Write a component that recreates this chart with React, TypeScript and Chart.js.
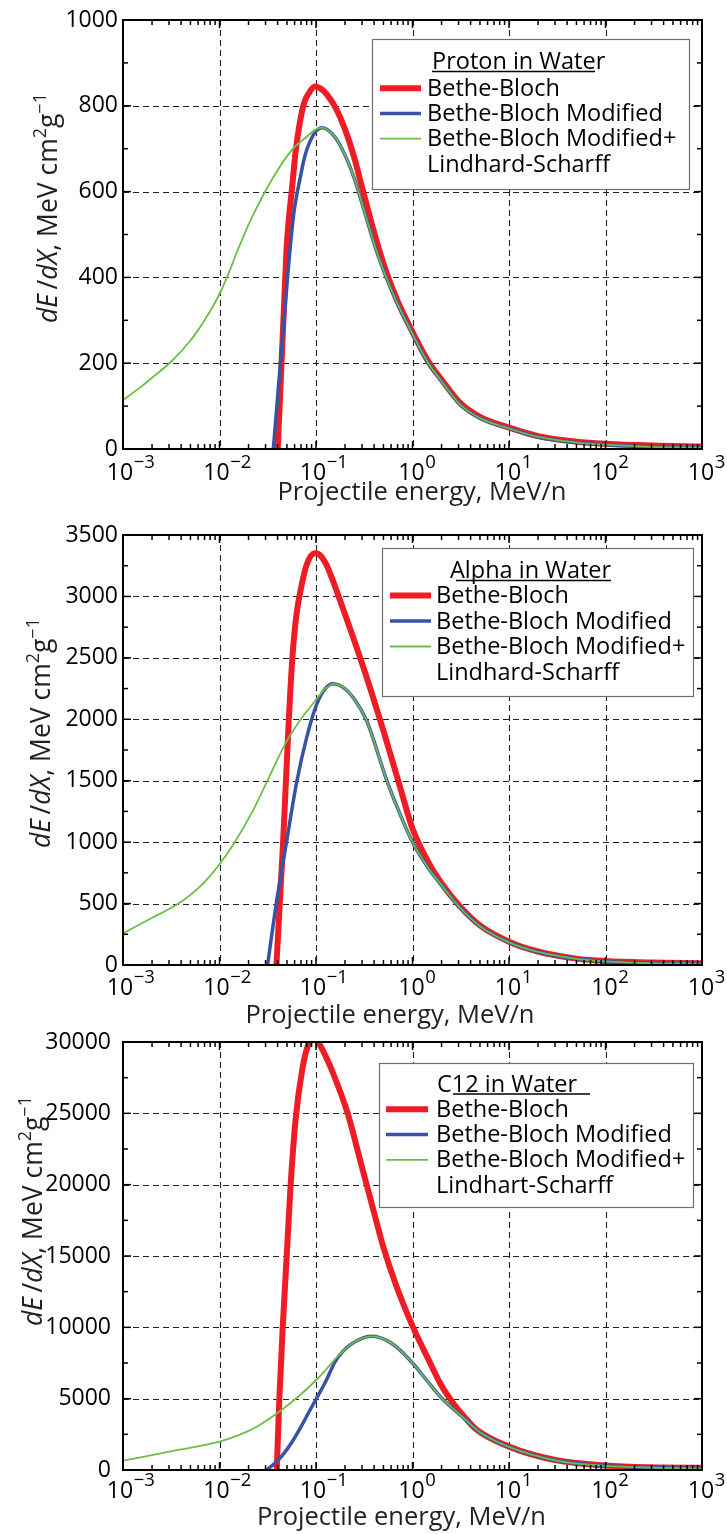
import React, { useEffect, useRef } from "react";
import { Chart, registerables } from "chart.js";

Chart.register(...registerables);

const FONT = '"Open Sans", "Noto Sans", "DejaVu Sans", sans-serif';
const INK = "#231f20";

// ---------------- data ----------------
const xTickExponents = [-3, -2, -1, 0, 1, 2, 3];
const seriesLabels = ["Bethe-Bloch", "Bethe-Bloch Modified", "Bethe-Bloch Modified+"];

// Proton in water
const protonTitle = "Proton in Water";
const protonLastLine = "Lindhard-Scharff";
const protonYTicks = [0, 200, 400, 600, 800, 1000];
const protonBBEnergy = [0.0401, 0.04236, 0.04444, 0.0466, 0.04946, 0.05252, 0.05598, 0.06204, 0.07385, 0.08462, 0.09763, 0.1154, 0.13, 0.16, 0.2, 0.25, 0.3, 0.42, 0.53, 0.7, 1.0, 1.45, 2.0, 3.1, 5, 10, 20, 50, 100, 300, 1000];
const protonBBValues = [0, 121, 226, 332, 464, 540, 600, 700, 800, 830, 845, 838, 826, 795, 745, 678, 610, 488, 415, 345, 273, 205, 162, 108, 75, 50, 30, 17, 12, 8, 6];
const protonBBMEnergy = [0.0361, 0.03944, 0.04338, 0.04774, 0.05126, 0.05506, 0.05916, 0.06355, 0.06826, 0.07691, 0.08666, 0.1, 0.1154, 0.13, 0.16, 0.2, 0.25, 0.3, 0.42, 0.53, 0.7, 1.0, 1.45, 2.0, 3.1, 5, 10, 20, 50, 100, 300, 1000];
const protonBBMValues = [0, 104, 216, 328, 412, 489, 553, 595, 630, 684, 717, 741, 749, 745, 725, 685, 630, 572, 464, 402, 338, 268, 201, 158, 104, 72, 48, 28, 15, 10, 5, 3];
const protonLSEnergy = [0.001, 0.0015, 0.002, 0.00307, 0.005, 0.00708, 0.00989, 0.0123, 0.0151, 0.02, 0.0284, 0.04, 0.0578, 0.08, 0.1, 0.1154, 0.13, 0.16, 0.2, 0.25, 0.3, 0.42, 0.53, 0.7, 1.0, 1.45, 2.0, 3.1, 5, 10, 20, 50, 100, 300, 1000];
const protonLSValues = [114, 143, 166, 201, 253, 302, 359, 407, 458, 523, 592, 650, 700, 728, 745, 749, 745, 725, 685, 630, 572, 464, 402, 338, 268, 201, 158, 104, 72, 48, 28, 15, 10, 5, 3];

// Alpha in water
const alphaTitle = "Alpha in Water";
const alphaLastLine = "Lindhard-Scharff";
const alphaYTicks = [0, 500, 1000, 1500, 2000, 2500, 3000, 3500];
const alphaBBEnergy = [0.0389, 0.0421, 0.0456, 0.0485, 0.052, 0.0569, 0.0627, 0.0713, 0.0802, 0.0973, 0.1095, 0.1284, 0.1507, 0.1766, 0.244, 0.336, 0.5, 0.745, 1.0, 1.5, 2.0, 3.0, 5, 10, 20, 50, 100, 300, 1000];
const alphaBBValues = [0, 500, 1000, 1450, 1960, 2500, 2850, 3100, 3260, 3351, 3338, 3257, 3122, 2973, 2662, 2338, 1905, 1446, 1110, 820, 665, 490, 322, 190, 110, 52, 32, 20, 15];
const alphaBBMEnergy = [0.0315, 0.0391, 0.0497, 0.063, 0.08, 0.1016, 0.125, 0.151, 0.19, 0.244, 0.336, 0.542, 0.75, 1.0, 1.5, 2.0, 3.0, 5, 10, 20, 50, 100, 300, 1000];
const alphaBBMValues = [0, 520, 1010, 1486, 1851, 2122, 2250, 2289, 2262, 2176, 1986, 1500, 1220, 1000, 775, 650, 480, 316, 184, 106, 50, 29, 14, 9];
const alphaLSEnergy = [0.001, 0.00205, 0.00358, 0.005, 0.00708, 0.01, 0.0139, 0.0224, 0.0308, 0.0477, 0.0682, 0.1016, 0.125, 0.151, 0.19, 0.244, 0.336, 0.542, 0.75, 1.0, 1.5, 2.0, 3.0, 5, 10, 20, 50, 100, 300, 1000];
const alphaLSValues = [257, 388, 490, 571, 679, 820, 980, 1262, 1487, 1796, 1990, 2165, 2250, 2289, 2262, 2176, 1986, 1500, 1220, 1000, 775, 650, 480, 316, 184, 106, 50, 29, 14, 9];

// C12 in water
const carbonTitle = "C12 in Water";
const carbonLastLine = "Lindhart-Scharff";
const carbonYTicks = [0, 5000, 10000, 15000, 20000, 25000, 30000];
const carbonBBEnergy = [0.0392, 0.0417, 0.0452, 0.0497, 0.0545, 0.0615, 0.0722, 0.083, 0.096, 0.1117, 0.13, 0.154, 0.2115, 0.291, 0.4, 0.5, 0.68, 1.0, 1.5, 2.0, 2.63, 3.3, 4.58, 10, 31, 100, 300, 1000];
const carbonBBValues = [0, 5000, 10000, 15000, 19906, 24590, 28103, 29800, 30300, 29700, 28800, 27635, 25059, 21546, 18033, 15600, 12900, 10100, 7600, 5900, 4700, 3880, 2850, 1640, 680, 320, 190, 150];
const carbonBBMEnergy = [0.0308, 0.0372, 0.0457, 0.0562, 0.0708, 0.0891, 0.1, 0.126, 0.158, 0.19, 0.229, 0.3, 0.37, 0.45, 0.55, 0.68, 1.0, 1.5, 2.0, 3.33, 5, 10, 31, 100, 300, 1000];
const carbonBBMValues = [0, 450, 1100, 1950, 3100, 4350, 4950, 6200, 7600, 8320, 8800, 9230, 9370, 9300, 9050, 8630, 7500, 6050, 5050, 3700, 2650, 1620, 660, 290, 170, 120];
const carbonLSEnergy = [0.001, 0.002, 0.00284, 0.00631, 0.01, 0.0158, 0.0251, 0.0398, 0.063, 0.1, 0.126, 0.158, 0.19, 0.229, 0.3, 0.37, 0.45, 0.55, 0.68, 1.0, 1.5, 2.0, 3.33, 5, 10, 31, 100, 300, 1000];
const carbonLSValues = [660, 1040, 1250, 1690, 1990, 2440, 3090, 3990, 5050, 6290, 7020, 7780, 8320, 8800, 9230, 9370, 9300, 9050, 8630, 7500, 6050, 5050, 3700, 2650, 1620, 660, 290, 170, 120];

// ---------------- styles ----------------
const LINE_STYLES = [
  { color: "#ee1d25", width: 6, legendWidth: 6, order: 3 },
  { color: "#3953a4", width: 3.5, legendWidth: 3.5, order: 2 },
  { color: "#6cbe45", width: 1.8, legendWidth: 1.8, order: 1 },
];

const PLOT_LEFT = 123;
const PLOT_RIGHT = 702;
const WIDTH = 727;

type Legend = {
  box: [number, number, number, number];
  titleX: number;
  titleBase: number;
  underline: [number, number, number];
  sampleX: [number, number];
  textX: number;
  rowBase: number[];
};

type PanelCfg = {
  canvasTop: number;
  canvasHeight: number;
  plotTop: number;
  plotBottom: number;
  yMax: number;
  yStep: number;
  yMinor: number;
  yTicks: number[];
  yTickPad: number;
  xTickBase: number;
  xTitleX: number;
  xTitleBase: number;
  yTitleX: number;
  yTitleCY: number;
  title: string;
  lastLine: string;
  series: { energy: number[]; values: number[] }[];
  legend: Legend;
};

const panels: PanelCfg[] = [
  {
    canvasTop: 0, canvasHeight: 512, plotTop: 20, plotBottom: 449,
    yMax: 1000, yStep: 200, yMinor: 100, yTicks: protonYTicks, yTickPad: 5,
    xTickBase: 480, xTitleX: 422, xTitleBase: 500, yTitleX: 57, yTitleCY: 208,
    title: protonTitle, lastLine: protonLastLine,
    series: [
      { energy: protonBBEnergy, values: protonBBValues },
      { energy: protonBBMEnergy, values: protonBBMValues },
      { energy: protonLSEnergy, values: protonLSValues },
    ],
    legend: {
      box: [372, 39, 689, 189], titleX: 432, titleBase: 69, underline: [432, 595, 71.5],
      sampleX: [380, 421], textX: 427, rowBase: [95.7, 120.9, 146.1, 171.5],
    },
  },
  {
    canvasTop: 500, canvasHeight: 535, plotTop: 535, plotBottom: 965,
    yMax: 3500, yStep: 500, yMinor: 250, yTicks: alphaYTicks, yTickPad: 5,
    xTickBase: 995, xTitleX: 390, xTitleBase: 1023, yTitleX: 50, yTitleCY: 733,
    title: alphaTitle, lastLine: alphaLastLine,
    series: [
      { energy: alphaBBEnergy, values: alphaBBValues },
      { energy: alphaBBMEnergy, values: alphaBBMValues },
      { energy: alphaLSEnergy, values: alphaLSValues },
    ],
    legend: {
      box: [382, 548, 693, 696], titleX: 450, titleBase: 578.3, underline: [456, 611, 580.5],
      sampleX: [390, 431], textX: 436, rowBase: [603, 628.5, 654, 680],
    },
  },
  {
    canvasTop: 1015, canvasHeight: 519, plotTop: 1042, plotBottom: 1470,
    yMax: 30000, yStep: 5000, yMinor: 2500, yTicks: carbonYTicks, yTickPad: 12,
    xTickBase: 1498, xTitleX: 401.5, xTitleBase: 1525, yTitleX: 42, yTitleCY: 1211,
    title: carbonTitle, lastLine: carbonLastLine,
    series: [
      { energy: carbonBBEnergy, values: carbonBBValues },
      { energy: carbonBBMEnergy, values: carbonBBMValues },
      { energy: carbonLSEnergy, values: carbonLSValues },
    ],
    legend: {
      box: [379, 1063, 693, 1207], titleX: 437, titleBase: 1091.7, underline: [453, 590, 1094],
      sampleX: [386, 428], textX: 436, rowBase: [1116.7, 1142, 1167.3, 1192.8],
    },
  },
];

function line(ctx: CanvasRenderingContext2D, x1: number, y1: number, x2: number, y2: number) {
  ctx.beginPath();
  ctx.moveTo(x1, y1);
  ctx.lineTo(x2, y2);
  ctx.stroke();
}

function makeDecor(p: PanelCfg) {
  return {
    id: "decor",
    beforeDatasetsDraw(chart: any) {
      const { ctx, chartArea: a, scales } = chart;
      const x = scales.x;
      const y = scales.y;
      ctx.save();
      ctx.strokeStyle = "#222";
      ctx.lineWidth = 1.1;
      ctx.setLineDash([6, 4]);
      for (const k of xTickExponents) {
        if (k === xTickExponents[0] || k === xTickExponents[xTickExponents.length - 1]) continue;
        const px = Math.round(x.getPixelForValue(Math.pow(10, k))) + 0.5;
        line(ctx, px, a.top, px, a.bottom);
      }
      for (const v of p.yTicks) {
        if (v === 0 || v === p.yMax) continue;
        const py = Math.round(y.getPixelForValue(v)) + 0.5;
        line(ctx, a.left, py, a.right, py);
      }
      ctx.restore();
    },
    afterDatasetsDraw(chart: any) {
      const { ctx, chartArea: a, scales } = chart;
      const x = scales.x;
      const y = scales.y;
      ctx.save();
      ctx.setLineDash([]);
      ctx.strokeStyle = "#000";
      // ticks
      ctx.lineWidth = 1.5;
      const first = xTickExponents[0];
      const last = xTickExponents[xTickExponents.length - 1];
      for (let k = first; k < last; k++) {
        for (let m = 1; m <= 9; m++) {
          const px = x.getPixelForValue(m * Math.pow(10, k));
          const len = m === 1 ? 8 : 5;
          line(ctx, px, a.bottom, px, a.bottom - len);
          line(ctx, px, a.top, px, a.top + len);
        }
      }
      for (let v = 0; v <= p.yMax; v += p.yMinor) {
        const py = y.getPixelForValue(v);
        const len = v % p.yStep === 0 ? 8 : 5;
        line(ctx, a.left, py, a.left + len, py);
        line(ctx, a.right, py, a.right - len, py);
      }
      // frame
      ctx.lineWidth = 2;
      ctx.strokeRect(a.left, a.top, a.right - a.left, a.bottom - a.top);

      // x tick labels
      ctx.translate(0, -p.canvasTop);
      ctx.fillStyle = "#000";
      for (const k of xTickExponents) {
        const px = x.getPixelForValue(Math.pow(10, k));
        ctx.font = `23px ${FONT}`;
        ctx.textAlign = "center";
        ctx.textBaseline = "alphabetic";
        const w = ctx.measureText("10").width;
        const cx = px - (k < 0 ? 3 : 1);
        ctx.fillText("10", cx, p.xTickBase);
        ctx.font = `18.5px ${FONT}`;
        ctx.textAlign = "left";
        const exp = k < 0 ? "\u2212" + String(-k) : String(k);
        ctx.fillText(exp, cx + w / 2 + 0.5, p.xTickBase - 12);
      }

      // x title
      ctx.fillStyle = INK;
      ctx.font = `25.5px ${FONT}`;
      ctx.textAlign = "center";
      ctx.fillText("Projectile energy, MeV/n", p.xTitleX, p.xTitleBase);

      // y title (rotated)
      ctx.save();
      ctx.translate(p.yTitleX, p.yTitleCY);
      ctx.rotate(-Math.PI / 2);
      const segs = [
        { t: "dE", f: `italic 26.5px ${FONT}`, dy: 0 },
        { t: "\u2009/", f: `26.5px ${FONT}`, dy: 0 },
        { t: "dX", f: `italic 26.5px ${FONT}`, dy: 0 },
        { t: ", MeV cm", f: `26.5px ${FONT}`, dy: 0 },
        { t: "2", f: `18px ${FONT}`, dy: -11 },
        { t: "g", f: `26.5px ${FONT}`, dy: 0 },
        { t: "\u22121", f: `18px ${FONT}`, dy: -11 },
      ];
      let total = 0;
      for (const s of segs) {
        ctx.font = s.f;
        total += ctx.measureText(s.t).width;
      }
      let cur = -total / 2;
      ctx.textAlign = "left";
      for (const s of segs) {
        ctx.font = s.f;
        ctx.fillText(s.t, cur, s.dy);
        cur += ctx.measureText(s.t).width;
      }
      ctx.restore();

      // legend
      const L = p.legend;
      ctx.fillStyle = "#fff";
      ctx.fillRect(L.box[0], L.box[1], L.box[2] - L.box[0], L.box[3] - L.box[1]);
      ctx.strokeStyle = "#6d6e71";
      ctx.lineWidth = 1.2;
      ctx.strokeRect(L.box[0] + 0.5, L.box[1] + 0.5, L.box[2] - L.box[0], L.box[3] - L.box[1]);
      ctx.fillStyle = "#000";
      ctx.font = `23.5px ${FONT}`;
      ctx.textAlign = "left";
      ctx.fillText(p.title, L.titleX, L.titleBase);
      ctx.strokeStyle = "#000";
      ctx.lineWidth = 1.5;
      line(ctx, L.underline[0], L.underline[2], L.underline[1], L.underline[2]);
      for (let i = 0; i < 3; i++) {
        const st = LINE_STYLES[i];
        ctx.strokeStyle = st.color;
        ctx.lineWidth = st.legendWidth;
        const ly = L.rowBase[i] - 7.5;
        line(ctx, L.sampleX[0], ly, L.sampleX[1], ly);
        ctx.fillStyle = "#000";
        ctx.fillText(seriesLabels[i], L.textX, L.rowBase[i]);
      }
      ctx.fillText(p.lastLine, L.textX, L.rowBase[3]);
      ctx.restore();
    },
  };
}

function buildConfig(p: PanelCfg): any {
  const localTop = p.plotTop - p.canvasTop;
  const localBottom = p.plotBottom - p.canvasTop;
  return {
    type: "line",
    data: {
      datasets: p.series.map((s, i) => ({
        label: seriesLabels[i],
        data: s.energy.map((e, j) => ({ x: e, y: s.values[j] })),
        borderColor: LINE_STYLES[i].color,
        borderWidth: LINE_STYLES[i].width,
        pointRadius: 0,
        fill: false,
        cubicInterpolationMode: "monotone",
        order: LINE_STYLES[i].order,
        clip: 0,
      })),
    },
    options: {
      responsive: false,
      animation: false,
      devicePixelRatio: 1,
      layout: { padding: { left: 0, right: WIDTH - PLOT_RIGHT, top: localTop, bottom: 0 } },
      plugins: { legend: { display: false }, tooltip: { enabled: false } },
      scales: {
        x: {
          type: "logarithmic",
          min: 1e-3,
          max: 1e3,
          ticks: { display: false },
          grid: { display: false, drawTicks: false },
          border: { display: false },
          afterFit: (s: any) => {
            s.height = p.canvasHeight - localBottom;
          },
        },
        y: {
          type: "linear",
          min: 0,
          max: p.yMax,
          ticks: {
            stepSize: p.yStep,
            padding: p.yTickPad,
            color: "#000",
            font: { family: FONT, size: 23 },
            callback: (v: any) => String(v),
          },
          grid: { display: false, drawTicks: false },
          border: { display: false },
          afterFit: (s: any) => {
            s.width = PLOT_LEFT;
          },
        },
      },
    },
    plugins: [makeDecor(p)],
  };
}

function PanelChart({ cfg }: { cfg: PanelCfg }) {
  const ref = useRef<HTMLCanvasElement>(null);
  useEffect(() => {
    if (!ref.current) return;
    const chart = new Chart(ref.current, buildConfig(cfg));
    return () => chart.destroy();
  }, [cfg]);
  return (
    <canvas
      ref={ref}
      width={WIDTH}
      height={cfg.canvasHeight}
      style={{ position: "absolute", left: 0, top: cfg.canvasTop, width: WIDTH, height: cfg.canvasHeight }}
    />
  );
}

export default function App() {
  return (
    <div style={{ position: "absolute", left: 0, top: 0, width: WIDTH, height: 1534, background: "#fff" }}>
      {panels.map((p, i) => (
        <PanelChart key={i} cfg={p} />
      ))}
    </div>
  );
}
